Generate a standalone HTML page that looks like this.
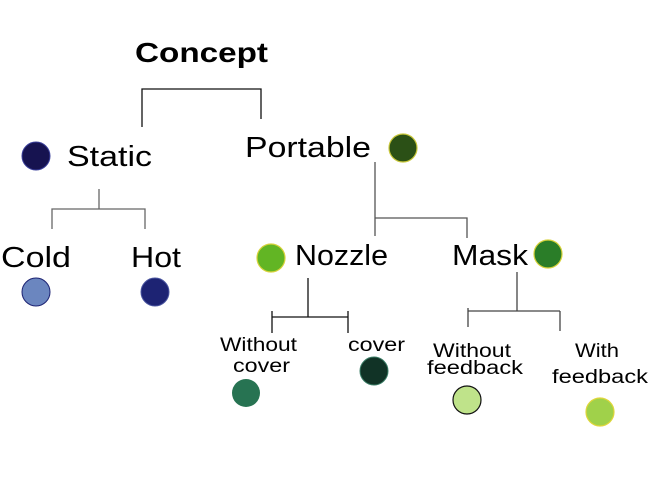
<!DOCTYPE html>
<html><head><style>body{margin:0;background:#fff}svg{display:block}text{font-family:"Liberation Sans",sans-serif;fill:#000}</style></head>
<body>
<svg width="648" height="478" viewBox="0 0 648 478" xmlns="http://www.w3.org/2000/svg">
<g stroke="#111" stroke-width="1.3" fill="none">
<path d="M142 127V89H261V119" />
<path d="M99 189V209M52 229V209H145V229" stroke="#666"/>
<path d="M375 162V236M375 218H467V238" stroke="#555"/>
<path d="M308 278V317M272 317H348M272 311V333M348 311V333"/>
<path d="M517 272V311M468 311H560M468 308V327M560 311V331" stroke="#444"/>
</g>
<text x="135" y="62" font-size="28" font-weight="bold" textLength="133" lengthAdjust="spacingAndGlyphs">Concept</text>
<text x="67" y="166" font-size="29" textLength="85" lengthAdjust="spacingAndGlyphs">Static</text>
<text x="245" y="157" font-size="29" textLength="126" lengthAdjust="spacingAndGlyphs">Portable</text>
<text x="1" y="267" font-size="29" textLength="70" lengthAdjust="spacingAndGlyphs">Cold</text>
<text x="131" y="267" font-size="29" textLength="50" lengthAdjust="spacingAndGlyphs">Hot</text>
<text x="295" y="265" font-size="29" textLength="93" lengthAdjust="spacingAndGlyphs">Nozzle</text>
<text x="452" y="265" font-size="29" textLength="76" lengthAdjust="spacingAndGlyphs">Mask</text>
<g font-size="19">
<text x="220" y="351" textLength="77" lengthAdjust="spacingAndGlyphs">Without</text>
<text x="233" y="372" textLength="57" lengthAdjust="spacingAndGlyphs">cover</text>
<text x="348" y="351" textLength="57" lengthAdjust="spacingAndGlyphs">cover</text>
<text x="433" y="357" textLength="78" lengthAdjust="spacingAndGlyphs">Without</text>
<text x="427" y="374" textLength="96" lengthAdjust="spacingAndGlyphs">feedback</text>
<text x="575" y="357" textLength="44" lengthAdjust="spacingAndGlyphs">With</text>
<text x="552" y="383" textLength="96" lengthAdjust="spacingAndGlyphs">feedback</text>
</g>
<circle cx="36" cy="156" r="14" fill="#161350" stroke="#3a3f9a" stroke-width="1"/>
<circle cx="403" cy="148" r="14" fill="#2b5016" stroke="#c9c83a" stroke-width="1.2"/>
<circle cx="36" cy="292" r="14" fill="#6b86bf" stroke="#1d2373" stroke-width="1"/>
<circle cx="155" cy="292" r="14" fill="#1d2373" stroke="#4a55a0" stroke-width="1"/>
<circle cx="271" cy="258" r="14" fill="#62b524" stroke="#d7d23a" stroke-width="1.2"/>
<circle cx="548" cy="254" r="14" fill="#2a7d28" stroke="#d7d23a" stroke-width="1.2"/>
<circle cx="246" cy="393" r="14" fill="#277352"/>
<circle cx="374" cy="371" r="14" fill="#113326" stroke="#3a7d66" stroke-width="1"/>
<circle cx="467" cy="400" r="14" fill="#bfe38a" stroke="#111" stroke-width="1.2"/>
<circle cx="600" cy="412" r="14" fill="#a0d14a" stroke="#e0d63a" stroke-width="1.2"/>
</svg>
</body></html>
